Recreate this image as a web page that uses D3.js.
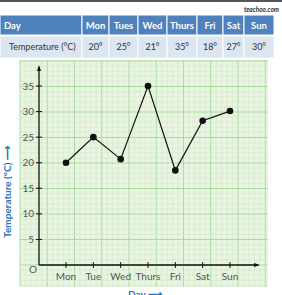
<!DOCTYPE html>
<html>
<head>
<meta charset="utf-8">
<script src="https://cdn.jsdelivr.net/npm/d3@7"></script>
<style>
body { margin: 0; background: #fff; }
svg { display: block; font-family: Lato, "Open Sans", sans-serif; }
</style>
</head>
<body>
<script>
// table data
var days = ["Mon", "Tues", "Wed", "Thurs", "Fri", "Sat", "Sun"];
var tableTemps = ["20°", "25°", "21°", "35°", "18°", "27°", "30°"];
// graph data (as plotted on the paper)
var axisDays = ["Mon", "Tue", "Wed", "Thurs", "Fri", "Sat", "Sun"];
var plotTemps = [20, 25, 20.7, 35, 18.5, 28.2, 30.1];
var yTicks = [5, 10, 15, 20, 25, 30, 35];

var W = 282, H = 295;
var svg = d3.select("body").append("svg").attr("width", W).attr("height", H);

// top border strip
svg.append("rect").attr("x", 0).attr("y", 0).attr("width", W).attr("height", 2).attr("fill", "#555");
svg.append("text").attr("x", 279).attr("y", 12).attr("text-anchor", "end")
    .attr("font-size", 6.5).attr("font-style", "italic").attr("font-weight", "bold")
    .attr("fill", "#333").text("teachoo.com");

// ---- table ----
var colEdges = [0, 82, 109, 138, 167, 197, 223, 244, 274];
var rowTop = 15, rowH = 20, row2H = 22;
var table = svg.append("g");
colEdges.slice(0, -1).forEach(function (x0, i) {
    var x1 = colEdges[i + 1];
    table.append("rect").attr("x", x0).attr("y", rowTop).attr("width", x1 - x0).attr("height", rowH)
        .attr("fill", "#4f81bd").attr("stroke", "#fff").attr("stroke-width", 1);
    table.append("rect").attr("x", x0).attr("y", rowTop + rowH + 1).attr("width", x1 - x0).attr("height", row2H)
        .attr("fill", "#dce6f1").attr("stroke", "#fff").attr("stroke-width", 1);
    var head = i === 0 ? "Day" : days[i - 1];
    var cell = i === 0 ? "Temperature (°C)" : tableTemps[i - 1];
    table.append("text")
        .attr("x", i === 0 ? 4 : (x0 + x1) / 2)
        .attr("y", rowTop + 14)
        .attr("text-anchor", i === 0 ? "start" : "middle")
        .attr("font-size", 9.5).attr("font-weight", "bold").attr("fill", "#fff").text(head);
    table.append("text")
        .attr("x", i === 0 ? 9 : (x0 + x1) / 2)
        .attr("y", rowTop + rowH + 15)
        .attr("text-anchor", i === 0 ? "start" : "middle")
        .attr("font-size", 9).attr("fill", "#333").text(cell);
});

// ---- graph paper ----
var gx0 = 20, gx1 = 268, gy0 = 60, gy1 = 287;
var paper = svg.append("g");
paper.append("rect").attr("x", gx0).attr("y", gy0).attr("width", gx1 - gx0).attr("height", gy1 - gy0)
    .attr("fill", "#eaf4e2");
d3.range(gx0, gx1, 5.45).forEach(function (x, i) {
    paper.append("line").attr("x1", x).attr("x2", x).attr("y1", gy0).attr("y2", gy1)
        .attr("stroke", i % 5 === 0 ? "#a8dc9e" : "#d2ebc7").attr("stroke-width", i % 5 === 0 ? 1 : 0.7);
});
d3.range(gy0 + 1, gy1, 5.1).forEach(function (y, i) {
    paper.append("line").attr("x1", gx0).attr("x2", gx1).attr("y1", y).attr("y2", y)
        .attr("stroke", i % 5 === 0 ? "#a8dc9e" : "#d2ebc7").attr("stroke-width", i % 5 === 0 ? 1 : 0.7);
});

// ---- scales ----
var x = d3.scalePoint().domain(axisDays).range([66, 230]);
var y = d3.scaleLinear().domain([0, 35]).range([265, 86]);
var ox = 39, oy = y(0);

// axes lines with arrow heads
var axes = svg.append("g").attr("stroke", "#111").attr("stroke-width", 1.3).attr("fill", "none");
axes.append("line").attr("x1", ox).attr("y1", oy).attr("x2", ox).attr("y2", 67);
axes.append("line").attr("x1", ox).attr("y1", oy).attr("x2", 258).attr("y2", oy);
svg.append("path").attr("d", "M" + ox + ",65 L" + (ox - 2) + ",71 L" + (ox + 2) + ",71Z").attr("fill", "#111");
svg.append("path").attr("d", "M260," + oy + " L254," + (oy - 2) + " L254," + (oy + 2) + "Z").attr("fill", "#111");

// y ticks
var yt = svg.append("g");
yTicks.forEach(function (v) {
    yt.append("line").attr("x1", ox - 3).attr("x2", ox + 3).attr("y1", y(v)).attr("y2", y(v))
        .attr("stroke", "#111").attr("stroke-width", 1);
    yt.append("text").attr("x", ox - 5).attr("y", y(v) + 3.5).attr("text-anchor", "end")
        .attr("font-size", 10).attr("fill", "#555").text(v);
});
svg.append("text").attr("x", 33).attr("y", 273).attr("text-anchor", "middle")
    .attr("font-size", 10).attr("fill", "#555").text("O");

// x ticks
var xt = svg.append("g");
axisDays.forEach(function (d) {
    xt.append("line").attr("x1", x(d)).attr("x2", x(d)).attr("y1", oy - 3).attr("y2", oy + 3)
        .attr("stroke", "#111").attr("stroke-width", 1);
    xt.append("text").attr("x", x(d)).attr("y", oy + 15).attr("text-anchor", "middle")
        .attr("font-size", 10).attr("fill", "#555").text(d);
});

// line + points
var lineFn = d3.line().x(function (d, i) { return x(axisDays[i]); }).y(function (d) { return y(d); });
svg.append("path").datum(plotTemps).attr("d", lineFn)
    .attr("fill", "none").attr("stroke", "#111").attr("stroke-width", 1.2);
svg.selectAll("circle.pt").data(plotTemps).enter().append("circle")
    .attr("cx", function (d, i) { return x(axisDays[i]); })
    .attr("cy", function (d) { return y(d); })
    .attr("r", 3.3).attr("fill", "#111");

// axis titles
svg.append("text").attr("transform", "translate(11,192) rotate(-90)").attr("text-anchor", "middle")
    .attr("font-size", 10).attr("font-weight", "bold").attr("fill", "#2e75b6").text("Temperature (°C) ⟶");
svg.append("text").attr("x", 128).attr("y", 298).attr("text-anchor", "start")
    .attr("font-size", 10).attr("font-weight", "bold").attr("fill", "#2e75b6").text("Day ⟶");
</script>
</body>
</html>
